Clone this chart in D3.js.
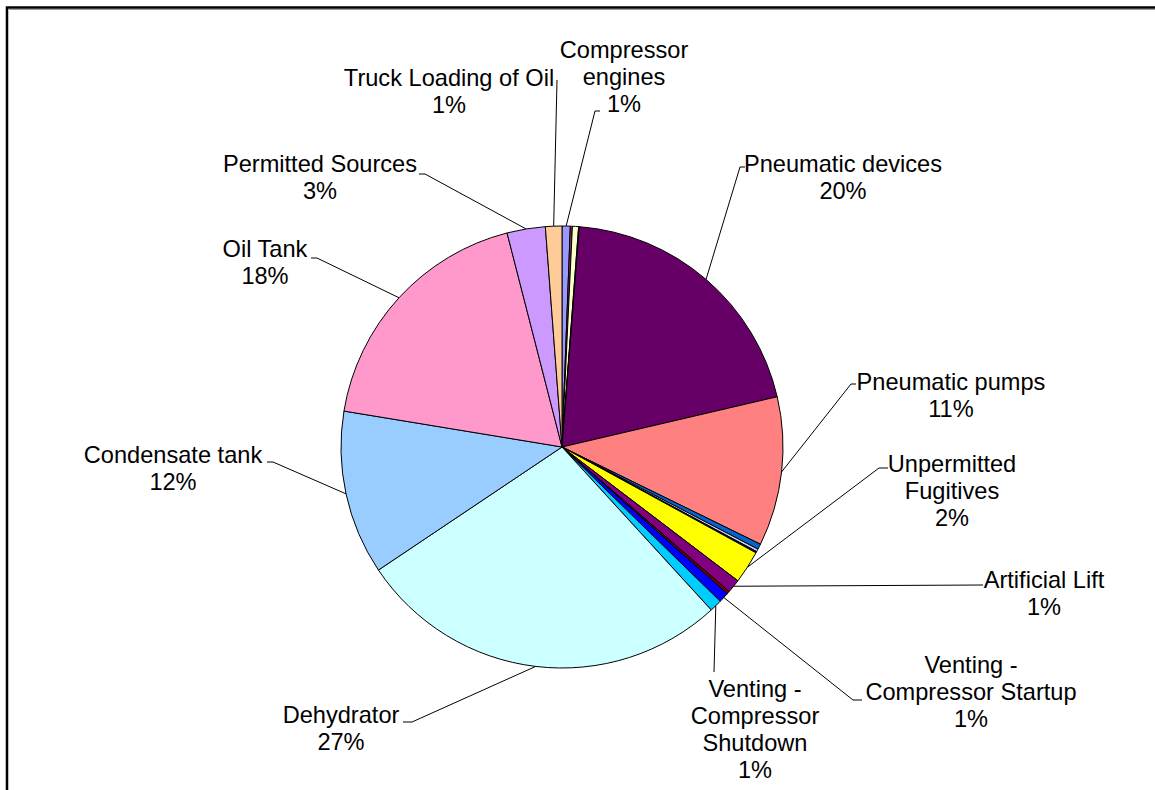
<!DOCTYPE html>
<html>
<head>
<meta charset="utf-8">
<script src="https://cdn.jsdelivr.net/npm/d3@7"></script>
<style>
  html, body { margin: 0; padding: 0; background: #fff; }
  svg { display: block; }
  text { font-family: "Liberation Sans", Arial, sans-serif; fill: #000; }
</style>
</head>
<body>
<svg id="chart" width="1155" height="790"></svg>
<script>
// ---- data (clockwise from 12 o'clock) ----
const categories = [
  "Compressor engines", "", "", "",
  "Pneumatic devices", "Pneumatic pumps", "", "", "",
  "Unpermitted Fugitives", "Artificial Lift", "",
  "Venting - Compressor Startup", "Venting - Compressor Shutdown",
  "Dehydrator", "Condensate tank", "Oil Tank", "Permitted Sources",
  "Truck Loading of Oil"
];
const values = [
  0.6, 0.15, 0.45, 0.05,
  20.1, 10.9, 0.4, 0.2, 0.1,
  2.4, 1.0, 0.2,
  0.75, 0.9,
  27.4, 12.0, 18.4, 2.8,
  1.2
];
const colors = [
  "#9999FF", "#993366", "#FFFFCC", "#CCFFFF",
  "#660066", "#FF8080", "#0066CC", "#CCCCFF", "#000080",
  "#FFFF00", "#800080", "#800000",
  "#0000FF", "#00CCFF",
  "#CCFFFF", "#99CCFF", "#FF99CC", "#CC99FF",
  "#FFCC99"
];
// label text lines (the percentage line is appended from the data)
const labelLines = {
  "Compressor engines": ["Compressor", "engines"],
  "Pneumatic devices": ["Pneumatic devices"],
  "Pneumatic pumps": ["Pneumatic pumps"],
  "Unpermitted Fugitives": ["Unpermitted", "Fugitives"],
  "Artificial Lift": ["Artificial Lift"],
  "Venting - Compressor Startup": ["Venting -", "Compressor Startup"],
  "Venting - Compressor Shutdown": ["Venting -", "Compressor", "Shutdown"],
  "Dehydrator": ["Dehydrator"],
  "Condensate tank": ["Condensate tank"],
  "Oil Tank": ["Oil Tank"],
  "Permitted Sources": ["Permitted Sources"],
  "Truck Loading of Oil": ["Truck Loading of Oil"]
};

// ---- layout (label placement, manual as in the original) ----
const layout = {
  "Compressor engines":          { x: 624, y: 58,  lead: [[600,111],[595,111]] },
  "Truck Loading of Oil":        { x: 449, y: 86,  lead: [[557,80]] },
  "Pneumatic devices":           { x: 843, y: 172, lead: [[745,167],[740,167]] },
  "Pneumatic pumps":             { x: 951, y: 390, lead: [[856,384],[851,384]] },
  "Unpermitted Fugitives":       { x: 952, y: 472, lead: [[888,468],[879,468]] },
  "Artificial Lift":             { x: 1044, y: 588, lead: [[983,585]] },
  "Venting - Compressor Startup":{ x: 971, y: 673, lead: [[862,700],[853,700]] },
  "Venting - Compressor Shutdown":{ x: 755, y: 697, lead: [[714,672]] },
  "Dehydrator":                  { x: 341, y: 723, lead: [[403,722],[412,722]] },
  "Condensate tank":             { x: 173, y: 463, lead: [[267,462],[273,462]] },
  "Oil Tank":                    { x: 265, y: 257, lead: [[311,258],[317,258]] },
  "Permitted Sources":           { x: 320, y: 172, lead: [[419,174],[425,174]] }
};

const W = 1155, H = 790;
const cx = 562, cy = 447, R = 221;
const lineH = 27;

const svg = d3.select("#chart");

// frame
svg.append("rect").attr("x", 7).attr("y", 7.5).attr("width", 1300).attr("height", 1000)
  .attr("fill", "none").attr("stroke", "#000").attr("stroke-width", 2.5);
svg.append("line").attr("x1", 9).attr("x2", W).attr("y1", 9.5).attr("y2", 9.5)
  .attr("stroke", "#999").attr("stroke-width", 1);

const total = d3.sum(values);
const data = categories.map((c, i) => ({ name: c, value: values[i], color: colors[i], i }));

const pie = d3.pie().value(d => d.value).sort(null).startAngle(0).endAngle(2 * Math.PI);
const arcs = pie(data);
const arc = d3.arc().innerRadius(0).outerRadius(R);

const g = svg.append("g").attr("transform", `translate(${cx},${cy})`);
g.selectAll("path.slice").data(arcs).enter().append("path")
  .attr("class", "slice")
  .attr("d", arc)
  .attr("fill", d => d.data.color)
  .attr("stroke", "#000")
  .attr("stroke-width", 1)
  .attr("stroke-linejoin", "round");

// labels + leader lines
const fontSize = 23.6;
arcs.forEach(a => {
  const name = a.data.name;
  if (!name || !layout[name]) return;
  const L = layout[name];
  const mid = (a.startAngle + a.endAngle) / 2;
  const px = cx + R * Math.sin(mid), py = cy - R * Math.cos(mid);
  const pts = L.lead.concat([[px, py]]);
  svg.append("path")
    .attr("d", d3.line()(pts))
    .attr("fill", "none").attr("stroke", "#000").attr("stroke-width", 1);

  const pct = Math.round(a.data.value / total * 100) + "%";
  const lines = labelLines[name].concat([pct]);
  const t = svg.append("text").attr("text-anchor", "middle")
    .attr("font-size", fontSize);
  lines.forEach((ln, k) => {
    t.append("tspan").attr("x", L.x).attr("y", L.y + k * lineH).text(ln);
  });
});
</script>
</body>
</html>
